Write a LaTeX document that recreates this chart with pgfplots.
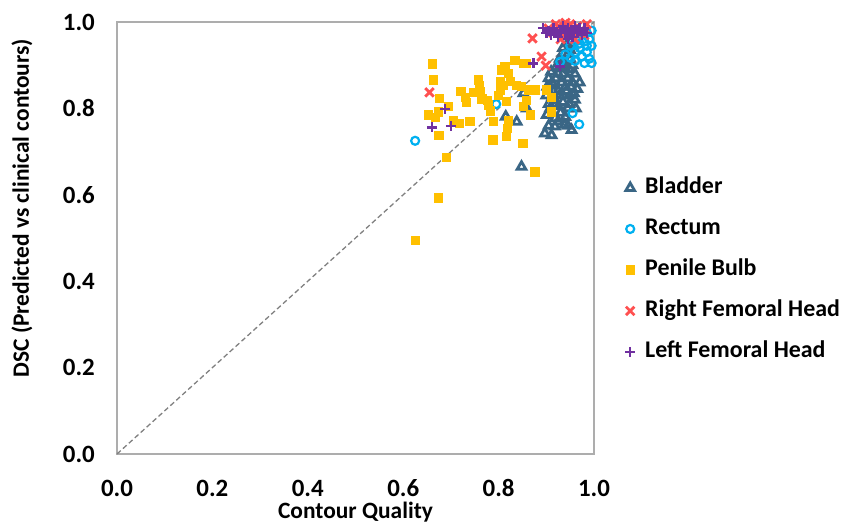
\documentclass[border=0pt]{standalone}
\usepackage{fontspec}
\setmainfont{Carlito}
\usepackage{pgfplots}
\pgfplotsset{compat=1.18}
\definecolor{cblad}{HTML}{3A6685}
\definecolor{crect}{HTML}{00B0F0}
\definecolor{cpen}{HTML}{FFC000}
\definecolor{crfh}{HTML}{FF5050}
\definecolor{clfh}{HTML}{7030A0}
\begin{document}
\begin{tikzpicture}
\useasboundingbox (0,0) rectangle (844bp,527bp);
\begin{axis}[
  at={(117bp,73bp)}, anchor=south west,
  scale only axis, width=477bp, height=432bp,
  xmin=0, xmax=1, ymin=0, ymax=1,
  clip=false,
  axis line style={draw=black!32, line width=1.2bp},
  major tick length=0pt,
  xtick={0,0.2,0.4,0.6,0.8,1.0},
  ytick={0,0.2,0.4,0.6,0.8,1.0},
  /pgf/number format/assume math mode=true,
  /pgf/number format/.cd, fixed, fixed zerofill, precision=1, /pgfplots/.cd,
  tick label style={font=\fontsize{25}{29}\selectfont\bfseries, inner sep=0pt},
  xticklabel style={anchor=base, yshift=-42bp},
  yticklabel style={anchor=east, xshift=-22bp},
  xlabel={Contour Quality},
  ylabel={DSC (Predicted vs clinical contours)},
  every axis x label/.style={at={(axis description cs:0.5,-0.134)}, anchor=center, font=\fontsize{23.5}{27}\selectfont\bfseries},
  every axis y label/.style={at={(axis description cs:-0.199,0.569)}, anchor=center, rotate=90, font=\fontsize{23.5}{27}\selectfont\bfseries},
  legend style={draw=none, fill=none, at={(axis description cs:1.065,0.426)}, anchor=west,
    inner sep=0pt, row sep=20bp, column sep=10bp,
    font=\fontsize{24}{28}\selectfont\bfseries,
    nodes={text height=16bp, text depth=5bp, inner sep=0pt}},
  legend cell align=left,
  legend image code/.code={\draw plot coordinates {(0bp,0bp)};},
]
\addplot[forget plot, draw=black!50, line width=1.3bp, dash pattern=on 5bp off 3bp] coordinates {(0,0) (1,1)};

\addplot[only marks, mark=triangle, mark size=5bp, mark options={draw=cblad, fill=white, line width=2.8bp}] coordinates {
(0.848,0.665) (0.838,0.769) (0.815,0.781) (0.852,0.835) (0.859,0.800)
(0.897,0.742) (0.911,0.738) (0.918,0.758) (0.938,0.762) (0.953,0.750)
(0.901,0.785) (0.918,0.777) (0.930,0.790) (0.905,0.810) (0.912,0.825)
(0.925,0.805) (0.935,0.815) (0.945,0.800) (0.950,0.830) (0.960,0.820)
(0.965,0.845) (0.955,0.860) (0.940,0.850) (0.925,0.840) (0.915,0.855)
(0.905,0.870) (0.920,0.870) (0.935,0.880) (0.945,0.870) (0.930,0.900)
(0.940,0.910) (0.950,0.935) (0.955,0.945) (0.945,0.925) (0.920,0.895)
(0.910,0.885) (0.960,0.880) (0.970,0.860) (0.928,0.830) (0.940,0.780)
(0.920,0.810) (0.908,0.800) (0.932,0.860) (0.948,0.890) (0.955,0.900)
(0.900,0.830) (0.962,0.800) (0.945,0.760) (0.915,0.840) (0.925,0.880)
(0.938,0.895) (0.950,0.915) (0.942,0.840) (0.952,0.850) (0.918,0.820)
(0.902,0.850) (0.935,0.830) (0.958,0.835) (0.928,0.915) (0.935,0.940)
(0.944,0.950) (0.912,0.860) (0.948,0.810) (0.925,0.770) (0.905,0.760)
};
\addlegendentry{Bladder}

\addplot[only marks, mark=o, mark size=4bp, mark options={draw=crect, line width=2.2bp}] coordinates {
(0.625,0.725) (0.795,0.810) (0.955,0.789) (0.969,0.763) (0.929,0.908)
(0.951,0.917) (0.960,0.930) (0.970,0.940) (0.975,0.920) (0.985,0.930)
(0.990,0.915) (0.995,0.945) (0.980,0.955) (0.965,0.960) (0.990,0.960)
(0.985,0.975) (0.995,0.980) (0.975,0.970) (0.960,0.910) (0.980,0.905)
(0.995,0.905) (0.970,0.950) (0.950,0.945) (0.940,0.925) (0.985,0.945)
};
\addlegendentry{Rectum}

\addplot[only marks, mark=square*, mark size=4.1bp, mark options={draw=cpen, fill=cpen, line width=0.8bp, rounded corners=1.4bp}] coordinates {
(0.625,0.495) (0.673,0.593) (0.662,0.903) (0.663,0.866) (0.676,0.823)
(0.653,0.785) (0.667,0.779) (0.675,0.738) (0.691,0.686) (0.674,0.792)
(0.695,0.804) (0.705,0.771) (0.718,0.765) (0.740,0.769) (0.721,0.840)
(0.730,0.825) (0.733,0.814) (0.747,0.837) (0.757,0.866) (0.760,0.854)
(0.761,0.839) (0.765,0.822) (0.776,0.819) (0.778,0.808) (0.782,0.794)
(0.789,0.769) (0.788,0.727) (0.800,0.831) (0.803,0.843) (0.803,0.862)
(0.806,0.889) (0.813,0.897) (0.820,0.881) (0.824,0.862) (0.810,0.854)
(0.817,0.816) (0.820,0.771) (0.818,0.754) (0.817,0.735) (0.834,0.912)
(0.838,0.854) (0.848,0.850) (0.859,0.904) (0.862,0.843) (0.859,0.819)
(0.852,0.804) (0.866,0.785) (0.851,0.719) (0.876,0.653) (0.876,0.843)
(0.901,0.843) (0.911,0.825) (0.911,0.792) (0.852,0.904)
};
\addlegendentry{Penile Bulb}

\addplot[only marks, mark=x, mark size=6bp, mark options={draw=crfh, line width=2.8bp}] coordinates {
(0.655,0.837) (0.871,0.962) (0.890,0.920) (0.899,0.899) (0.905,0.985)
(0.915,0.975) (0.925,0.990) (0.935,0.970) (0.945,0.985) (0.955,0.975)
(0.965,0.990) (0.975,0.980) (0.985,0.995) (0.930,0.960) (0.960,0.960)
(0.950,0.995) (0.920,0.995) (0.940,0.998) (0.980,0.970)
};
\addlegendentry{Right Femoral Head}

\addplot[only marks, mark=+, mark size=5bp, mark options={draw=clfh, line width=2.4bp}] coordinates {
(0.688,0.798) (0.660,0.756) (0.700,0.759) (0.873,0.904) (0.929,0.897)
(0.893,0.986) (0.905,0.980) (0.915,0.985) (0.920,0.975) (0.930,0.980)
(0.935,0.990) (0.940,0.975) (0.945,0.985) (0.950,0.970) (0.955,0.980)
(0.960,0.990) (0.965,0.975) (0.970,0.985) (0.975,0.970) (0.980,0.985)
(0.925,0.965) (0.945,0.960) (0.910,0.970) (0.900,0.975) (0.985,0.975)
(0.955,0.965)
};
\addlegendentry{Left Femoral Head}
\end{axis}
\end{tikzpicture}
\end{document}
